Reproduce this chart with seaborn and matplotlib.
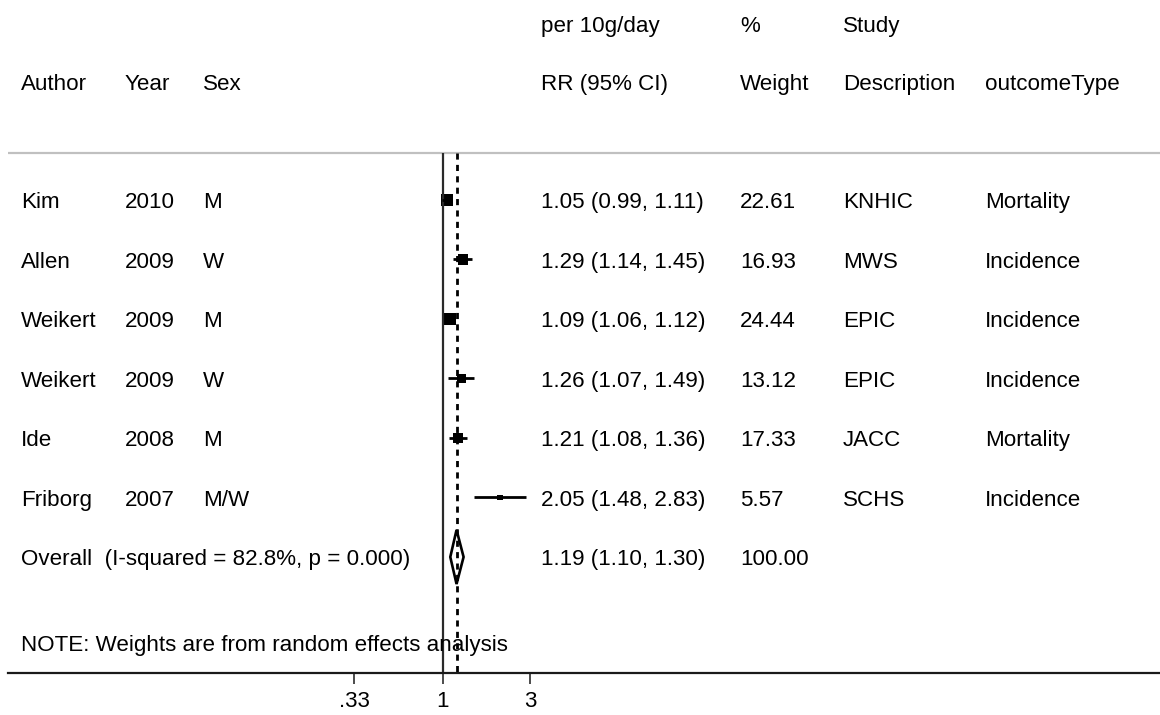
import numpy as np
import pandas as pd
import seaborn as sns
import matplotlib.pyplot as plt
from matplotlib.transforms import blended_transform_factory
from matplotlib.ticker import NullLocator

# study level data
authors  = ['Kim', 'Allen', 'Weikert', 'Weikert', 'Ide', 'Friborg']
years    = [2010, 2009, 2009, 2009, 2008, 2007]
sexes    = ['M', 'W', 'M', 'W', 'M', 'M/W']
rr       = [1.05, 1.29, 1.09, 1.26, 1.21, 2.05]
rr_lo    = [0.99, 1.14, 1.06, 1.07, 1.08, 1.48]
rr_hi    = [1.11, 1.45, 1.12, 1.49, 1.36, 2.83]
weights  = [22.61, 16.93, 24.44, 13.12, 17.33, 5.57]
studies  = ['KNHIC', 'MWS', 'EPIC', 'EPIC', 'JACC', 'SCHS']
outcomes = ['Mortality', 'Incidence', 'Incidence', 'Incidence', 'Mortality', 'Incidence']

overall_rr, overall_lo, overall_hi = 1.19, 1.10, 1.30
overall_weight = 100.00
i_squared, p_het = 82.8, 0.000

tick_values = [0.33, 1, 3]
tick_labels = ['.33', '1', '3']

df = pd.DataFrame({'author': authors, 'year': years, 'sex': sexes,
                   'rr': rr, 'lo': rr_lo, 'hi': rr_hi, 'weight': weights,
                   'study': studies, 'outcome': outcomes})
df['row'] = np.arange(1, len(df) + 1)
overall_row = len(df) + 1

sns.set_style('white')
plt.rcParams['font.family'] = ['Liberation Sans', 'DejaVu Sans']
FS = 16.1

W, H = 1160, 715
fig = plt.figure(figsize=(W / 100, H / 100), dpi=100)
ax = fig.add_axes([8 / W, (H - 673) / H, 1 - 8 / W, 673 / H])

# x: log scale, 1 sits at 442.7px, ~79.6px per log unit
px_per = 79.6
x0 = 442.7
ax.set_xscale('log')
ax.set_xlim(np.exp((8 - x0) / px_per), np.exp((W - x0) / px_per))
top_row = 1 - 200 / 59.5
ax.set_ylim(8.95, top_row)

line_y = 0.21
ax.axhline(line_y, color='#c0c0c0', lw=1.6)
ax.vlines(1, line_y, 8.95, color='#2a2a2a', lw=1.6)
ax.vlines(overall_rr, line_y, 8.95, color='black', lw=2.0, linestyles=(0, (2.2, 1.9)))

# confidence intervals and weighted squares
ax.hlines(df['row'], df['lo'], df['hi'], color='black', lw=2.0)
k = 3.3
sns.scatterplot(data=df, x='rr', y='row', size='weight',
                sizes=(k * df['weight'].min(), k * df['weight'].max()),
                marker='s', color='black', linewidth=0, legend=False, ax=ax)

# pooled estimate diamond
h = 0.455
ax.fill([overall_lo, overall_rr, overall_hi, overall_rr],
        [overall_row, overall_row - h, overall_row, overall_row + h],
        facecolor='none', edgecolor='black', lw=1.9)

# axis styling
for s in ['top', 'left', 'right']:
    ax.spines[s].set_visible(False)
ax.spines['bottom'].set_color('#1a1a1a')
ax.spines['bottom'].set_linewidth(1.6)
ax.set_xticks(tick_values)
ax.set_xticklabels(tick_labels)
ax.xaxis.set_minor_locator(NullLocator())
ax.tick_params(axis='x', bottom=True, direction='out', length=8, width=1.1,
               color='#1a1a1a', labelsize=FS, labelcolor='black', pad=5)
ax.set_yticks([])
ax.set_xlabel('')
ax.set_ylabel('')

# text table
tr = blended_transform_factory(fig.transFigure, ax.transData)
cols = {'author': 20.7, 'year': 125, 'sex': 203, 'rr': 541,
        'w': 740, 'study': 843, 'outcome': 985}
off = 0.135


def put(col, row, s):
    ax.text(cols[col] / W, row + off, s, transform=tr, fontsize=FS,
            va='baseline', ha='left', color='black')


put('rr', -1.96, 'per 10g/day')
put('w', -1.96, '%')
put('study', -1.96, 'Study')
for c, s in [('author', 'Author'), ('year', 'Year'), ('sex', 'Sex'),
             ('rr', 'RR (95% CI)'), ('w', 'Weight'),
             ('study', 'Description'), ('outcome', 'outcomeType')]:
    put(c, -0.98, s)

for _, r in df.iterrows():
    put('author', r['row'], r['author'])
    put('year', r['row'], str(r['year']))
    put('sex', r['row'], r['sex'])
    put('rr', r['row'], f"{r['rr']:.2f} ({r['lo']:.2f}, {r['hi']:.2f})")
    put('w', r['row'], f"{r['weight']:.2f}")
    put('study', r['row'], r['study'])
    put('outcome', r['row'], r['outcome'])

put('author', overall_row, f'Overall  (I-squared = {i_squared:.1f}%, p = {p_het:.3f})')
put('rr', overall_row, f'{overall_rr:.2f} ({overall_lo:.2f}, {overall_hi:.2f})')
put('w', overall_row, f'{overall_weight:.2f}')
put('author', 8.45, 'NOTE: Weights are from random effects analysis')

fig.savefig('out.png', dpi=100)
